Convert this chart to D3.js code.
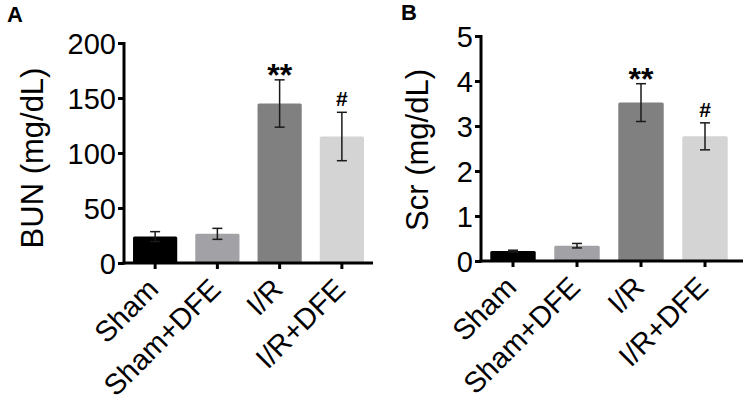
<!DOCTYPE html>
<html><head><meta charset="utf-8">
<script src="https://cdn.jsdelivr.net/npm/d3@7"></script>
<style>body{margin:0;background:#fff}svg{display:block}text{font-family:"Liberation Sans",Arial,sans-serif}</style>
</head><body><svg id="c" width="750" height="405"></svg>
<script>
const categories = ["Sham","Sham+DFE","I/R","I/R+DFE"];
const colors = ["#000000","#a2a2a6","#808080","#d4d4d4"];
const bunMean = [24, 26.5, 145, 115];
const bunErr = [4.5, 5, 21.5, 22];
const scrMean = [0.22, 0.34, 3.52, 2.77];
const scrErr = [0.02, 0.05, 0.42, 0.3];
const bunTicks = [0,50,100,150,200];
const scrTicks = [0,1,2,3,4,5];
const marks = ["", "", "**", "#"];

const svg = d3.select("#c");

function panel(o){
  const g = svg.append("g");
  const x = d3.scaleBand().domain(categories).range(o.xr).paddingInner(0.29).paddingOuter(0.145);
  const y = d3.scaleLinear().domain(o.dom).range(o.yr);
  g.selectAll("rect.bar").data(o.mean).join("rect")
    .attr("x",(d,i)=>x(categories[i])).attr("width",x.bandwidth())
    .attr("y",d=>y(d)).attr("height",d=>y(0)-y(d)).attr("rx",1.5)
    .attr("fill",(d,i)=>colors[i]);
  const cap = 5;
  o.mean.forEach((m,i)=>{
    const cx = x(categories[i])+x.bandwidth()/2;
    const e = o.err[i];
    const lo = y(m-e), hi = y(m+e);
    const eg = g.append("g").attr("stroke","#1a1a1a").attr("stroke-width",1.5);
    eg.append("line").attr("x1",cx).attr("x2",cx).attr("y1",lo).attr("y2",hi);
    eg.append("line").attr("x1",cx-cap).attr("x2",cx+cap).attr("y1",hi).attr("y2",hi);
    eg.append("line").attr("x1",cx-cap).attr("x2",cx+cap).attr("y1",lo).attr("y2",lo);
    if(marks[i]==="**"){
      g.append("text").attr("x",cx).attr("y",hi+6).attr("text-anchor","middle")
        .attr("font-size",32).attr("font-weight","bold").text(marks[i]);
    } else if(marks[i]){
      g.append("text").attr("x",cx).attr("y",hi-6).attr("text-anchor","middle")
        .attr("font-size",21).attr("font-weight","bold").text(marks[i]);
    }
  });
  const ya = g.append("g").attr("transform",`translate(${o.xr[0]},0)`)
    .call(d3.axisLeft(y).tickValues(o.ticks).tickFormat(d3.format("d")).tickSize(6).tickSizeOuter(0).tickPadding(2));
  ya.select(".domain").attr("stroke","#000").attr("stroke-width",3).attr("d",`M0,${y(0)+1.5}V${y(o.dom[1])-1}`);
  ya.selectAll(".tick line").attr("stroke","#000").attr("stroke-width",3);
  ya.selectAll(".tick text").attr("font-size",29).attr("fill","#000").attr("dy","0.36em");
  const xa = g.append("g").attr("transform",`translate(0,${y(0)})`)
    .call(d3.axisBottom(x).tickSize(6).tickSizeOuter(0));
  xa.select(".domain").attr("stroke","#000").attr("stroke-width",3).attr("d",`M${o.xr[0]-1.5},0H${o.xr[1]+o.ext}`);
  xa.selectAll(".tick line").attr("stroke","#000").attr("stroke-width",3);
  xa.selectAll(".tick text").attr("font-size",29).attr("fill","#000")
    .attr("text-anchor","end").attr("dy",0).attr("y",0)
    .attr("transform","translate(5,28) rotate(-45)");
  g.append("text").attr("transform",`translate(${o.lx},${o.ly}) rotate(-90)`).attr("text-anchor","middle")
    .attr("font-size",31).text(o.label);
  g.append("text").attr("x",o.px).attr("y",o.py).attr("font-size",22).attr("font-weight","bold").text(o.letter);
}

panel({xr:[124,373], ext:0, yr:[263,43], dom:[0,200], ticks:bunTicks, mean:bunMean, err:bunErr,
  label:"BUN (mg/dL)", lx:43, ly:158, letter:"A", px:7, py:22});
panel({xr:[481,737], ext:6, yr:[261,36], dom:[0,5], ticks:scrTicks, mean:scrMean, err:scrErr,
  label:"Scr (mg/dL)", lx:428, ly:150, letter:"B", px:401, py:20});
</script></body></html>
